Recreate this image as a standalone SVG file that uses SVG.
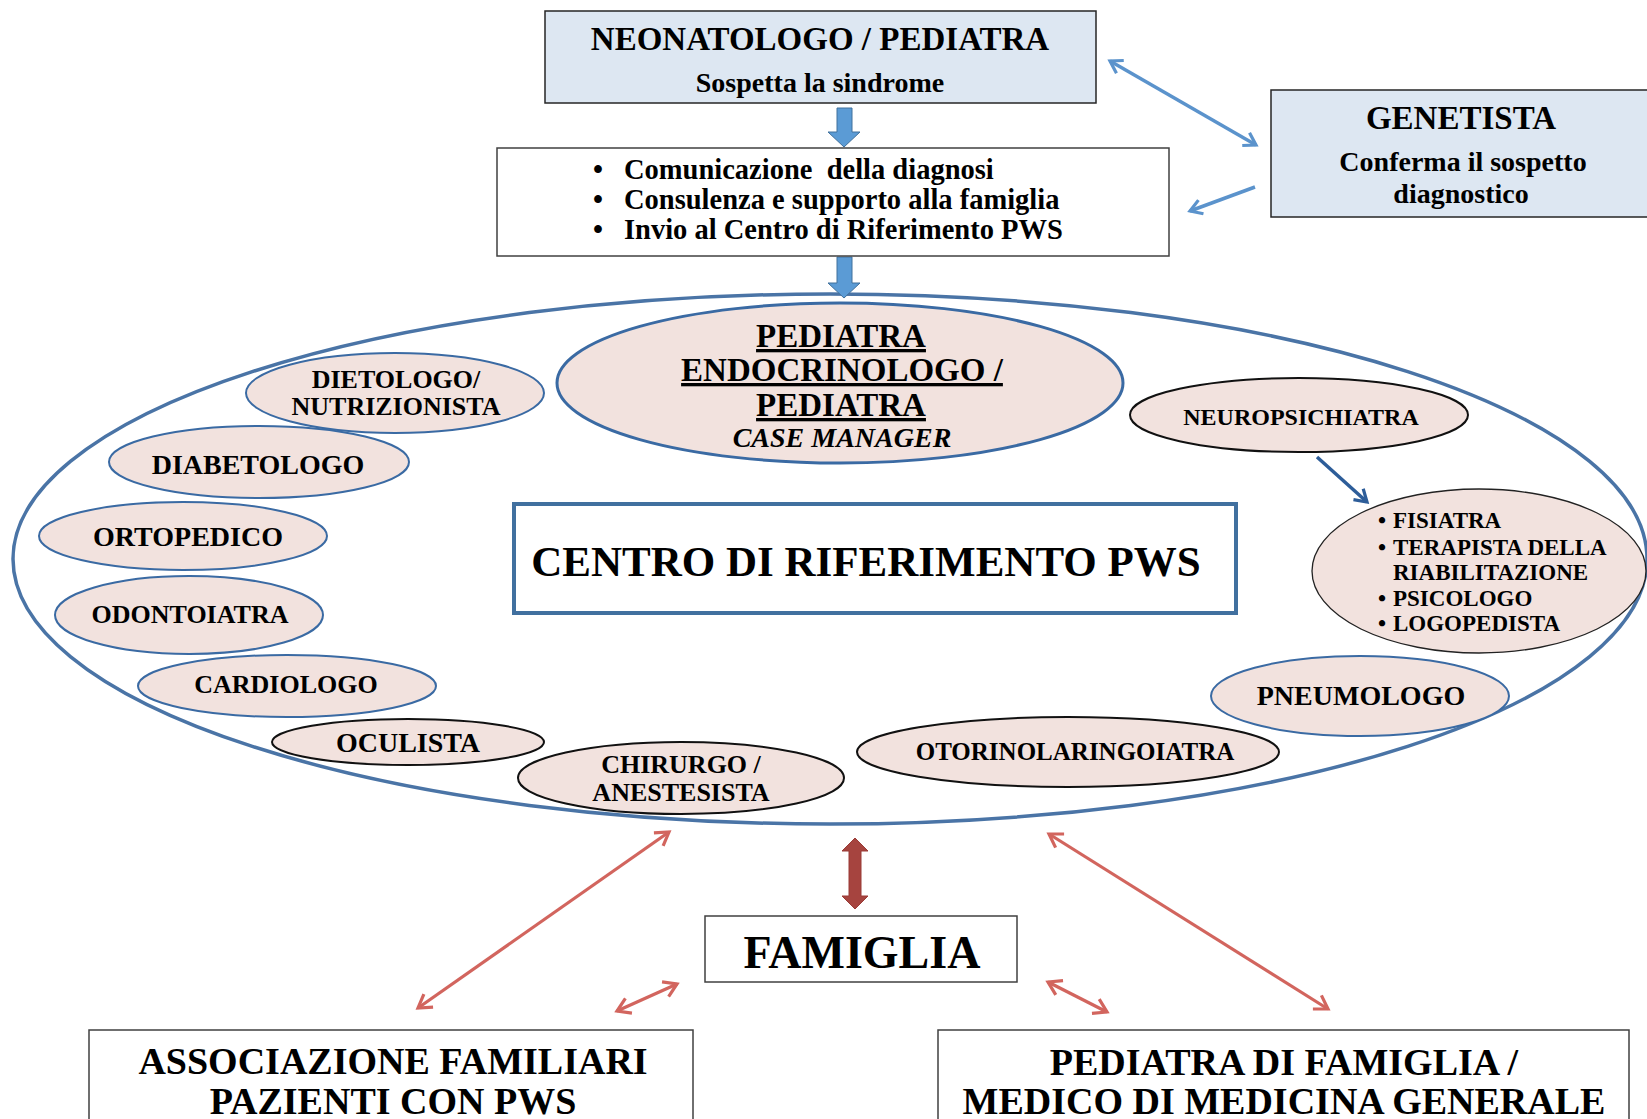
<svg xmlns="http://www.w3.org/2000/svg" width="1647" height="1119" viewBox="0 0 1647 1119">
<defs>
<style>
text{font-family:"Liberation Serif","Times New Roman",serif;font-weight:bold;fill:#000;}
.c{text-anchor:middle;}
.box{fill:#fff;stroke:#404040;stroke-width:1.5;}
.bluebox{fill:#dde7f2;stroke:#262626;stroke-width:1.5;}
.ell{fill:#f2e2de;stroke:#3a6aa3;stroke-width:2;}
.ellk{fill:#f2e2de;stroke:#111;stroke-width:2;}
.lb{stroke:#5b93cc;stroke-width:3.5;fill:none;}
.rd{stroke:#d2655e;stroke-width:3.2;fill:none;}
</style>
<marker id="hb" viewBox="0 0 12 12" refX="9" refY="6" markerWidth="5" markerHeight="5" orient="auto-start-reverse" markerUnits="strokeWidth">
<path d="M1,1 L9,6 L1,11" fill="none" stroke="#5b93cc" stroke-width="2.2"/>
</marker>
<marker id="hr" viewBox="0 0 12 12" refX="9" refY="6" markerWidth="6" markerHeight="6" orient="auto-start-reverse" markerUnits="strokeWidth">
<path d="M1,1 L9,6 L1,11" fill="none" stroke="#d2655e" stroke-width="2"/>
</marker>
<marker id="hd" viewBox="0 0 12 12" refX="9" refY="6" markerWidth="5" markerHeight="5" orient="auto" markerUnits="strokeWidth">
<path d="M1,1 L9,6 L1,11" fill="none" stroke="#2d5d99" stroke-width="2.2"/>
</marker>
</defs>

<g id="centro-ellipse">
<ellipse cx="830" cy="559" rx="817" ry="265" fill="none" stroke="#4a74a6" stroke-width="3.5"/>
</g>

<g id="connectors">
<path d="M837,108 H852 V132 H860 L844,147 L828,132 H837 Z" fill="#5b9bd5" stroke="#41719c" stroke-width="1"/>
<path d="M837,257 H852 V283 H860 L844,298 L828,283 H837 Z" fill="#5b9bd5" stroke="#41719c" stroke-width="1"/>
<line class="lb" x1="1110" y1="61" x2="1256" y2="145" marker-start="url(#hb)" marker-end="url(#hb)"/>
<line class="lb" x1="1255" y1="187" x2="1190" y2="211" marker-end="url(#hb)"/>
<line x1="1317" y1="457" x2="1367" y2="502" stroke="#2d5d99" stroke-width="3.5" marker-end="url(#hd)"/>
<path d="M855,838 L868,851 H861 V896 H868 L855,909 L842,896 H849 V851 H842 Z" fill="#a6443f" stroke="#9a3b36" stroke-width="1"/>
<line class="rd" x1="669" y1="832" x2="418" y2="1008" marker-start="url(#hr)" marker-end="url(#hr)"/>
<line class="rd" x1="677" y1="984" x2="617" y2="1011" marker-start="url(#hr)" marker-end="url(#hr)"/>
<line class="rd" x1="1049" y1="834" x2="1328" y2="1009" marker-start="url(#hr)" marker-end="url(#hr)"/>
<line class="rd" x1="1048" y1="982" x2="1107" y2="1012" marker-start="url(#hr)" marker-end="url(#hr)"/>
</g>

<g id="neonatologo">
<rect class="bluebox" x="545" y="11" width="551" height="92"/>
<text class="c" x="820" y="50" font-size="33">NEONATOLOGO / PEDIATRA</text>
<text class="c" x="820" y="92" font-size="28">Sospetta la sindrome</text>
</g>

<g id="comunicazione">
<rect class="box" x="497" y="148" width="672" height="108"/>
<text font-size="28.5"><tspan x="593" y="179">•</tspan><tspan x="624" y="179">Comunicazione&#160; della diagnosi</tspan></text>
<text font-size="28.5"><tspan x="593" y="209">•</tspan><tspan x="624" y="209">Consulenza e supporto alla famiglia</tspan></text>
<text font-size="28.5"><tspan x="593" y="239">•</tspan><tspan x="624" y="239">Invio al Centro di Riferimento PWS</tspan></text>
</g>

<g id="genetista">
<rect class="bluebox" x="1271" y="90" width="390" height="127"/>
<text class="c" x="1461" y="129" font-size="33">GENETISTA</text>
<text class="c" x="1463" y="171" font-size="28">Conferma il sospetto</text>
<text class="c" x="1461" y="203" font-size="28">diagnostico</text>
</g>

<g id="pediatra-case-manager">
<ellipse cx="840" cy="383" rx="283" ry="80" fill="#f2e2de" stroke="#3a6aa3" stroke-width="3"/>
<text class="c" x="841" y="347" font-size="33" text-decoration="underline">PEDIATRA</text>
<text class="c" x="842" y="381" font-size="33" text-decoration="underline">ENDOCRINOLOGO /</text>
<text class="c" x="841" y="416" font-size="33" text-decoration="underline">PEDIATRA</text>
<text class="c" x="842" y="447" font-size="28" font-style="italic">CASE MANAGER</text>
</g>

<g id="dietologo">
<ellipse class="ell" cx="395" cy="393" rx="149" ry="40"/>
<text class="c" x="396" y="388" font-size="26">DIETOLOGO/</text>
<text class="c" x="396" y="415" font-size="26">NUTRIZIONISTA</text>
</g>

<g id="diabetologo">
<ellipse class="ell" cx="259" cy="462" rx="150" ry="36"/>
<text class="c" x="258" y="474" font-size="28">DIABETOLOGO</text>
</g>

<g id="ortopedico">
<ellipse class="ell" cx="183" cy="536" rx="144" ry="34"/>
<text class="c" x="188" y="546" font-size="28">ORTOPEDICO</text>
</g>

<g id="odontoiatra">
<ellipse class="ell" cx="189" cy="615" rx="134" ry="39"/>
<text class="c" x="190" y="623" font-size="26">ODONTOIATRA</text>
</g>

<g id="cardiologo">
<ellipse class="ell" cx="287" cy="686" rx="149" ry="31"/>
<text class="c" x="286" y="693" font-size="26">CARDIOLOGO</text>
</g>

<g id="oculista">
<ellipse class="ellk" cx="408" cy="742" rx="136" ry="23"/>
<text class="c" x="408" y="752" font-size="28">OCULISTA</text>
</g>

<g id="chirurgo">
<ellipse class="ellk" cx="681" cy="778" rx="163" ry="36"/>
<text class="c" x="681" y="773" font-size="26">CHIRURGO /</text>
<text class="c" x="681" y="801" font-size="26">ANESTESISTA</text>
</g>

<g id="otorino">
<ellipse class="ellk" cx="1068" cy="752" rx="211" ry="35"/>
<text class="c" x="1075" y="760" font-size="25">OTORINOLARINGOIATRA</text>
</g>

<g id="pneumologo">
<ellipse class="ell" cx="1360" cy="696" rx="149" ry="40"/>
<text class="c" x="1361" y="705" font-size="28">PNEUMOLOGO</text>
</g>

<g id="riabilitazione">
<ellipse cx="1479" cy="571" rx="167" ry="82" fill="#f2e2de" stroke="#222" stroke-width="1.3"/>
<text font-size="23"><tspan x="1378" y="528">•</tspan><tspan x="1393" y="528">FISIATRA</tspan></text>
<text font-size="23"><tspan x="1378" y="555">•</tspan><tspan x="1393" y="555">TERAPISTA DELLA</tspan></text>
<text font-size="23"><tspan x="1393" y="580">RIABILITAZIONE</tspan></text>
<text font-size="23"><tspan x="1378" y="606">•</tspan><tspan x="1393" y="606">PSICOLOGO</tspan></text>
<text font-size="23"><tspan x="1378" y="631">•</tspan><tspan x="1393" y="631">LOGOPEDISTA</tspan></text>
</g>

<g id="neuropsichiatra">
<ellipse class="ellk" cx="1299" cy="415" rx="169" ry="37"/>
<text class="c" x="1301" y="425" font-size="24">NEUROPSICHIATRA</text>
</g>

<g id="centro">
<rect x="514" y="504" width="722" height="109" fill="#fff" stroke="#41709f" stroke-width="4"/>
<text class="c" x="866" y="576" font-size="43">CENTRO DI RIFERIMENTO PWS</text>
</g>

<g id="famiglia">
<rect class="box" x="705" y="916" width="312" height="66"/>
<text class="c" x="862" y="968" font-size="46">FAMIGLIA</text>
</g>

<g id="associazione">
<rect class="box" x="89" y="1030" width="604" height="100"/>
<text class="c" x="393" y="1074" font-size="38">ASSOCIAZIONE FAMILIARI</text>
<text class="c" x="393" y="1114" font-size="38">PAZIENTI CON PWS</text>
</g>

<g id="pediatra-famiglia">
<rect class="box" x="938" y="1030" width="691" height="100"/>
<text class="c" x="1284" y="1075" font-size="38">PEDIATRA DI FAMIGLIA /</text>
<text class="c" x="1284" y="1114" font-size="38">MEDICO DI MEDICINA GENERALE</text>
</g>
</svg>
